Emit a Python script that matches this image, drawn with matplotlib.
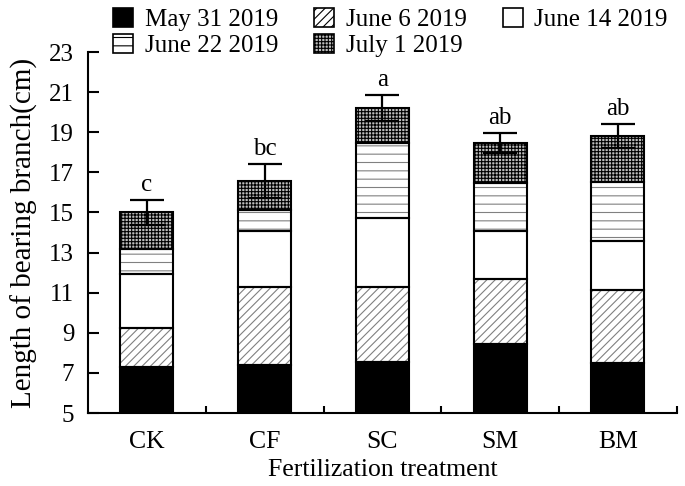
import matplotlib

matplotlib.use("Agg")
import matplotlib.pyplot as plt
import numpy as np

plt.rcParams["font.family"] = ["Liberation Serif", "DejaVu Serif"]
plt.rcParams["hatch.linewidth"] = 0.8

# values (cm); first segment is the full May 31 height,
# the rest are increments stacked on top of it
treatments = ["CK", "CF", "SC", "SM", "BM"]
dates = ["May 31 2019", "June 6 2019", "June 14 2019", "June 22 2019", "July 1 2019"]
may31 = [7.31, 7.39, 7.53, 8.42, 7.51]
jun6 = [1.94, 3.90, 3.76, 3.26, 3.65]
jun14 = [2.66, 2.79, 3.46, 2.40, 2.41]
jun22 = [1.25, 1.03, 3.69, 2.41, 2.94]
jul1 = [1.84, 1.45, 1.77, 1.98, 2.31]
errors = [0.63, 0.86, 0.67, 0.50, 0.61]
letters = ["c", "bc", "a", "ab", "ab"]

segments = [may31, jun6, jun14, jun22, jul1]
faces = ["black", "white", "white", "white", "#bdbdbd"]
hatches = [None, "////", None, "--", "+++++"]
hatch_colors = ["black", "#808080", "black", "#808080", "black"]

fig = plt.figure(figsize=(6.85, 4.86), dpi=100)
ax = fig.add_axes([0.1285, 0.150, 0.8595, 0.743])

x = np.arange(len(treatments))
width = 0.45
bottoms = np.zeros(len(treatments))
handles = []
for vals, fc, h, hc, label in zip(segments, faces, hatches, hatch_colors, dates):
    vals = np.array(vals)
    ax.bar(x, vals, width, bottom=bottoms, color=fc, hatch=h,
           edgecolor=hc, linewidth=0, zorder=2)
    ax.bar(x, vals, width, bottom=bottoms, fill=False, edgecolor="black",
           linewidth=1.5, zorder=3)
    handles.append(plt.Rectangle((0, 0), 1, 1, facecolor=fc, hatch=h,
                                 edgecolor="black", linewidth=1.2, label=label))
    bottoms = bottoms + vals

tops = bottoms
ax.errorbar(x, tops, yerr=errors, fmt="none", ecolor="black", elinewidth=1.6,
            capsize=12, capthick=1.6, zorder=4)
for xi, top, err, lab in zip(x, tops, errors, letters):
    ax.text(xi, top + err + 0.2, lab, ha="center", va="bottom", fontsize=18)

ax.set_ylim(5, 23)
ax.set_yticks(np.arange(5, 24, 2))
ax.set_xlim(-0.5, 4.5)
ax.set_xticks(x)
ax.set_xticklabels(treatments)
ax.set_xticks(np.arange(0.5, 5, 1), minor=True)
ax.tick_params(axis="x", which="major", length=0, labelsize=18.5, pad=13)
ax.tick_params(axis="x", which="minor", direction="in", length=5, width=1.5)
ax.tick_params(axis="y", direction="in", length=8, width=1.5, labelsize=18, pad=10)
for side in ["top", "right"]:
    ax.spines[side].set_visible(False)
for side in ["left", "bottom"]:
    ax.spines[side].set_linewidth(1.5)
ax.set_xlabel("Fertilization treatment", fontsize=18.5, labelpad=4)
ax.set_ylabel("Length of bearing branch(cm)", fontsize=21, labelpad=8)

order = [0, 3, 1, 4, 2]
fig.legend([handles[i] for i in order], [dates[i] for i in order], ncol=3,
           loc="upper left", bbox_to_anchor=(0.14, 1.02), frameon=False,
           fontsize=18, handlelength=0.8, handleheight=0.8,
           handletextpad=0.45, columnspacing=1.45, labelspacing=0.1,
           borderpad=0.2)

fig.savefig("out.png", dpi=100)
